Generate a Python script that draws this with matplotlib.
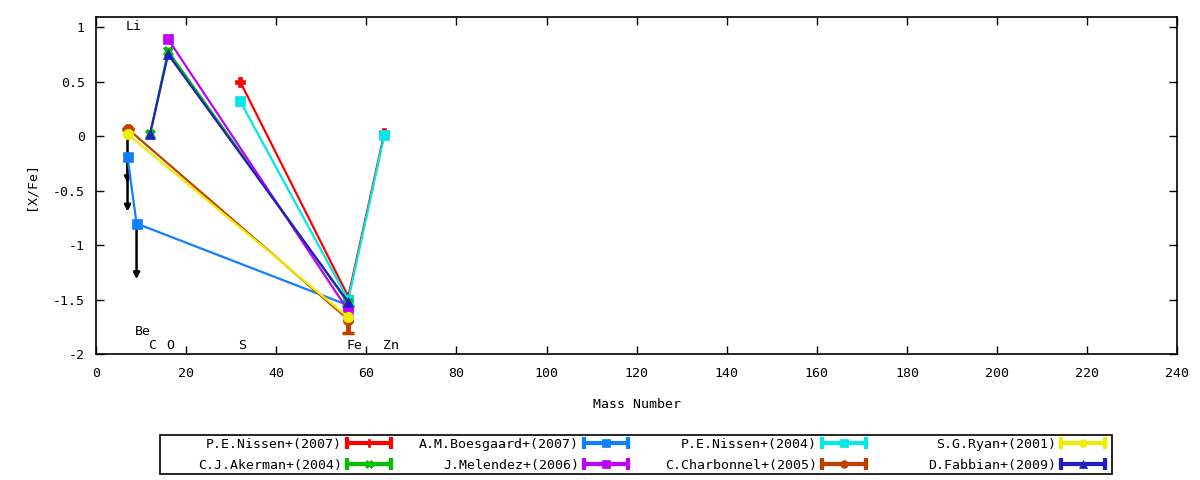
import numpy as np
import matplotlib.pyplot as plt
from matplotlib.lines import Line2D
from matplotlib.patches import Rectangle
from matplotlib.legend_handler import HandlerBase

plt.rcParams['font.family'] = ['DejaVu Sans Mono']
plt.rcParams['font.size'] = 9.5
plt.rcParams['axes.unicode_minus'] = False

# element labels (mass number)
elem_names = ['Li', 'Be', 'C', 'O', 'S', 'Fe', 'Zn']
elem_mass = [7, 9, 12, 16, 32, 56, 64]
elem_label_y = [1.01, -1.785, -1.92, -1.92, -1.92, -1.92, -1.92]

# [X/Fe] per study
nissen07_x = [32, 56, 64]
nissen07_y = [0.50, -1.47, 0.03]
boesgaard_x = [7, 9, 56]
boesgaard_y = [-0.19, -0.80, -1.55]
nissen04_x = [32, 56, 64]
nissen04_y = [0.32, -1.50, 0.01]
akerman_x = [12, 16, 56]
akerman_y = [0.02, 0.78, -1.53]
melendez_x = [16, 56]
melendez_y = [0.89, -1.60]
charbonnel_x = [7, 56]
charbonnel_y = [0.07, -1.68]
charbonnel_err = [0.0, 0.12]
ryan_x = [7, 56]
ryan_y = [0.02, -1.66]
fabbian_x = [12, 16, 56]
fabbian_y = [0.02, 0.75, -1.52]

# upper limits (arrows)
lim_x = [7, 7, 9]
lim_y0 = [0.02, -0.19, -0.80]
lim_y1 = [-0.43, -0.69, -1.31]

series = [
    ('P.E.Nissen+(2007)', nissen07_x, nissen07_y, '#ff0000', 'P'),
    ('A.M.Boesgaard+(2007)', boesgaard_x, boesgaard_y, '#1080ff', 's'),
    ('P.E.Nissen+(2004)', nissen04_x, nissen04_y, '#00e8e8', 's'),
    ('C.J.Akerman+(2004)', akerman_x, akerman_y, '#00c000', 'X'),
    ('J.Melendez+(2006)', melendez_x, melendez_y, '#c000ff', 's'),
    ('C.Charbonnel+(2005)', charbonnel_x, charbonnel_y, '#c04000', 'o'),
    ('S.G.Ryan+(2001)', ryan_x, ryan_y, '#eeee00', 'o'),
    ('D.Fabbian+(2009)', fabbian_x, fabbian_y, '#2020c0', '^'),
]


class ErrBarHandler(HandlerBase):
    def create_artists(self, legend, orig_handle, xdescent, ydescent,
                       width, height, fontsize, trans):
        col = orig_handle.get_color()
        y = height / 2 - ydescent
        x0 = -xdescent
        x1 = x0 + width
        bar = Line2D([x0, x1], [y, y], color=col, lw=3, transform=trans)
        caps = Line2D([x0, x1], [y, y], ls='none', marker='|', ms=8,
                      mew=3, color=col, transform=trans)
        mk = Line2D([(x0 + x1) / 2], [y], ls='none',
                    marker=orig_handle.get_marker(), ms=5.5, mew=0.5,
                    color=col, transform=trans)
        return [bar, caps, mk]


fig = plt.figure(figsize=(12, 4.8), dpi=100)
ax = fig.add_axes([0.08, 0.2615, 0.9011, 0.7025])

for x, y0, y1 in zip(lim_x, lim_y0, lim_y1):
    ax.annotate('', xy=(x, y1), xytext=(x, y0),
                arrowprops=dict(arrowstyle='-|>', color='black', lw=1.8,
                                mutation_scale=9, shrinkA=0, shrinkB=0),
                zorder=2)

handles = {}
for name, x, y, col, mk in series:
    ln, = ax.plot(x, y, color=col, lw=1.6, marker=mk, ms=7.5, mew=0.5,
                  label=name, zorder=3)
    handles[name] = ln

ax.errorbar(charbonnel_x, charbonnel_y, yerr=charbonnel_err, fmt='none',
            ecolor='#c04000', elinewidth=3.5, capsize=4, capthick=2.5,
            zorder=2.9)

for name, m, ly in zip(elem_names, elem_mass, elem_label_y):
    ax.text(m - 0.4, ly, name, ha='left', va='center')

ax.set_xlim(0, 240)
ax.set_ylim(-2, 1.09)
ax.set_xticks(np.arange(0, 241, 20))
ax.set_yticks([1, 0.5, 0, -0.5, -1, -1.5, -2])
ax.yaxis.set_major_formatter(plt.FormatStrFormatter('%g'))
ax.tick_params(direction='in', length=6, width=1, top=True, right=True,
               pad=8)
ax.tick_params(axis='x', pad=9)
for sp in ax.spines.values():
    sp.set_linewidth(1.2)

ax.set_xlabel('Mass Number')
ax.set_ylabel('[X/Fe]')
ax.xaxis.set_label_coords(0.5, -0.13)
ax.yaxis.set_label_coords(-0.054, 0.5)

# legend: four columns, gnuplot-like key
columns = [
    ['P.E.Nissen+(2007)', 'C.J.Akerman+(2004)'],
    ['A.M.Boesgaard+(2007)', 'J.Melendez+(2006)'],
    ['P.E.Nissen+(2004)', 'C.Charbonnel+(2005)'],
    ['S.G.Ryan+(2001)', 'D.Fabbian+(2009)'],
]
col_right = [391, 628, 866, 1105]
for names, xr in zip(columns, col_right):
    leg = fig.legend([handles[n] for n in names], names, loc='upper right',
                     bbox_to_anchor=(xr / 1200, 1 - 438 / 480),
                     markerfirst=False, frameon=False, borderpad=0,
                     handlelength=3.3, handletextpad=0.4, labelspacing=0.6,
                     borderaxespad=0,
                     handler_map={Line2D: ErrBarHandler()})
fig.add_artist(Rectangle((160 / 1200, 1 - 474 / 480), 952 / 1200, 39 / 480,
                         transform=fig.transFigure, fill=False,
                         edgecolor='black', lw=1.2))

fig.savefig('out.png', dpi=100)
